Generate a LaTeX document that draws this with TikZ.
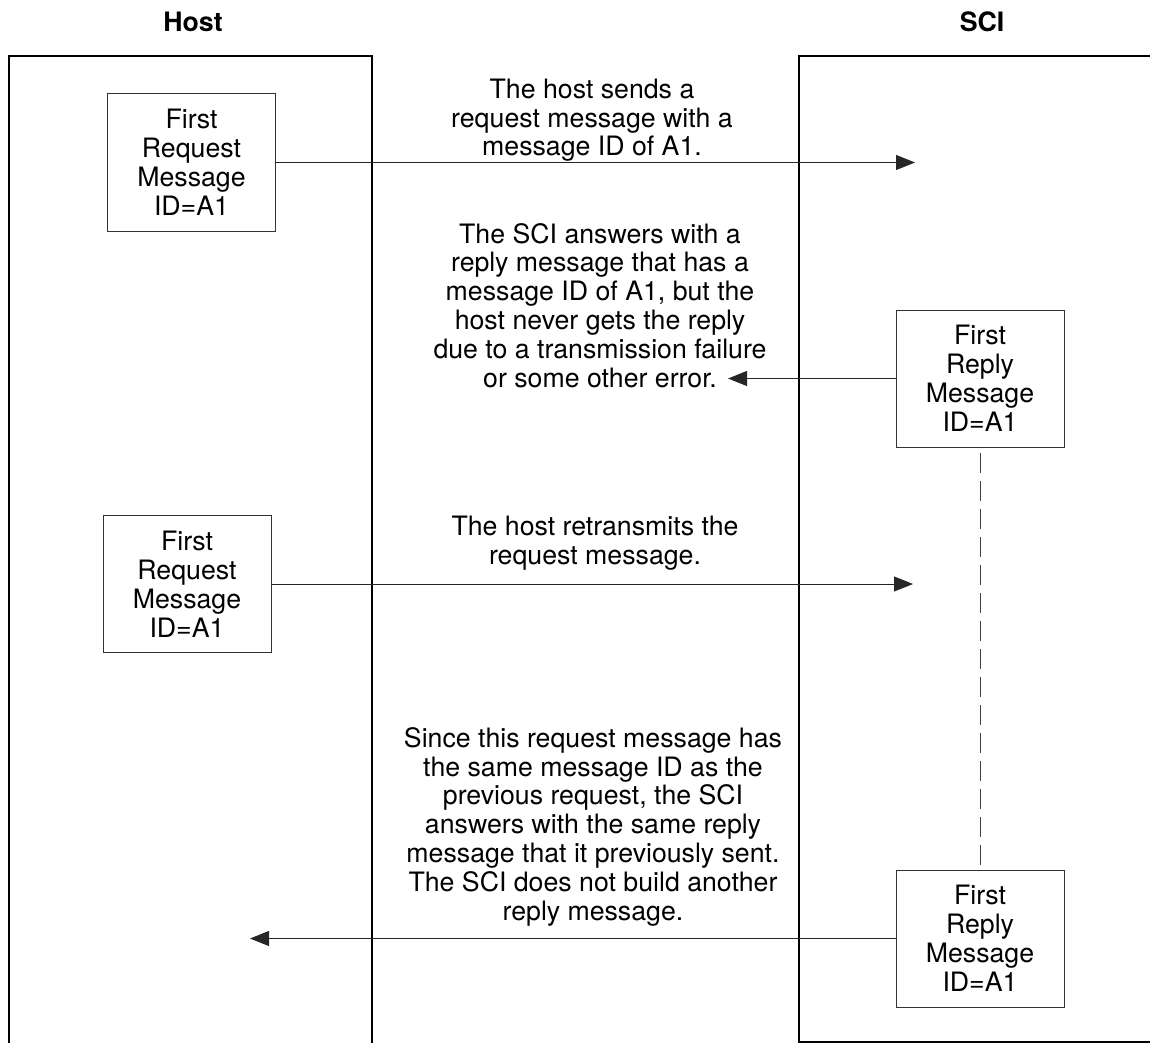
\documentclass[tikz,border=0pt]{standalone}
\usepackage{fontspec}
\setmainfont{TeX Gyre Heros}
\usetikzlibrary{arrows.meta}

\begin{document}
\begin{tikzpicture}[x=1pt,y=-1pt,
  frameline/.style={line width=1.4pt, draw=black},
  msgbox/.style={draw=black!80, line width=1pt, minimum width=168pt,
    minimum height=137pt, inner sep=0pt, align=center,
    font=\fontsize{26.7}{29}\selectfont},
  note/.style={align=center, inner sep=0pt, anchor=base,
    font=\fontsize{26.7}{28.8}\selectfont},
  head/.style={inner sep=0pt, anchor=base,
    font=\fontsize{26.7}{29}\selectfont\bfseries},
  msg/.style={draw=black!85, line width=1pt,
    -{Triangle[length=19pt,width=15pt]}},
  lifeline/.style={draw=black!75, line width=1pt, dash pattern=on 20pt off 8pt}]

\useasboundingbox (0,0) rectangle (1150,1043);

% column headings
\node[head] (hosthead) at (193,32) {Host};
\node[head] (scihead) at (982,32) {SCI};

% host and SCI frames
\draw[frameline] (9,1043) -- (9,56) -- (372,56) -- (372,1043);
\draw[frameline] (1150,56) -- (799,56) -- (799,1042) -- (1150,1042);

% message boxes
\node[msgbox] (req1) at (191.5,162.5) {First\\Request\\Message\\ID=A1};
\node[msgbox] (req2) at (187,584) {First\\Request\\Message\\ID=A1};
\node[msgbox] (rep1) at (980,378.5) {First\\Reply\\Message\\ID=A1};
\node[msgbox] (rep2) at (980,938.5) {First\\Reply\\Message\\ID=A1};

% arrow end points
\coordinate (req1end) at (915,162.5);
\coordinate (req2end) at (913,584);
\coordinate (rep1end) at (728,378.5);
\coordinate (rep2end) at (250,938.5);

% explanatory notes (placed at the baseline of their last line)
\node[note] (note1) at (592,156) {The host sends a\\request message with a\\message ID of A1.};
\node[note] (note2) at (600,387) {The SCI answers with a\\reply message that has a\\message ID of A1, but the\\host never gets the reply\\due to a transmission failure\\or some other error.};
\node[note] (note3) at (595,564) {The host retransmits the\\request message.};
\node[note] (note4) at (593,920) {Since this request message has\\the same message ID as the\\previous request, the SCI\\answers with the same reply\\message that it previously sent.\\The SCI does not build another\\reply message.};

% messages
\draw[msg] (req1.east) -- (req1end);
\draw[msg] (rep1.west) -- (rep1end);
\draw[msg] (req2.east) -- (req2end);
\draw[msg] (rep2.west) -- (rep2end);

% reply kept by the SCI
\draw[lifeline] ([yshift=-5pt]rep1.south) -- ([yshift=5pt]rep2.north);
\end{tikzpicture}
\end{document}
